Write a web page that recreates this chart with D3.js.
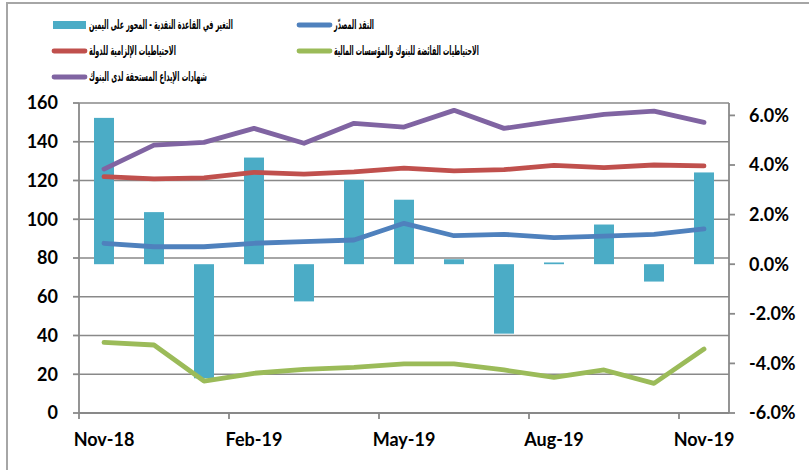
<!DOCTYPE html>
<html>
<head>
<meta charset="utf-8">
<script src="https://cdn.jsdelivr.net/npm/d3@7"></script>
<style>
  body { margin: 0; background: #fff; }
  svg { display: block; }
</style>
</head>
<body>
<div id="chart"></div>
<script>
// months on the category axis
let months = ["Nov-18", "Dec-18", "Jan-19", "Feb-19", "Mar-19", "Apr-19", "May-19",
              "Jun-19", "Jul-19", "Aug-19", "Sep-19", "Oct-19", "Nov-19"];

// change in monetary base, % (right axis)
let baseChange = [5.9, 2.1, -4.6, 4.3, -1.5, 3.4, 2.6, 0.2, -2.8, 0.07, 1.6, -0.7, 3.7];

// left axis series
let currency = [87.6, 85.8, 85.8, 87.6, 88.4, 89.3, 97.9, 91.5, 92.2, 90.5, 91.3, 92.2, 95.0];
let requiredReserves = [122.0, 120.8, 121.4, 124.2, 123.3, 124.5, 126.4, 125.0, 125.6, 127.8, 126.6, 128.0, 127.5];
let excessReserves = [36.5, 35.1, 16.5, 20.5, 22.5, 23.6, 25.4, 25.4, 22.2, 18.4, 22.2, 15.3, 33.0];
let depositCerts = [125.9, 138.3, 139.7, 146.9, 139.2, 149.5, 147.6, 156.2, 146.9, 150.6, 154.1, 155.8, 150.0];

let leftTicks = [0, 20, 40, 60, 80, 100, 120, 140, 160];
let rightTicks = [-6, -4, -2, 0, 2, 4, 6];
let xLabels = ["Nov-18", "Feb-19", "May-19", "Aug-19", "Nov-19"];

let series = [
    {name: "النقد المصدّر", values: currency, color: "#4F81BD"},
    {name: "الاحتياطيات الإلزامية للدولة", values: requiredReserves, color: "#C0504D"},
    {name: "الاحتياطيات الفائضة للبنوك والمؤسسات المالية", values: excessReserves, color: "#9BBB59"},
    {name: "شهادات الإيداع المستحقة لدى البنوك", values: depositCerts, color: "#8064A2"}
];
let barName = "التغير في القاعدة النقدية - المحور على اليمين";
let barColor = "#4BACC6";

const width = 809, height = 470;
const margin = {top: 103, right: 80, bottom: 57, left: 79};
const gridColor = "#898989";

const svg = d3.select("#chart").append("svg")
    .attr("width", width)
    .attr("height", height);

// outer chart frame (cut off on right and bottom)
svg.append("rect")
    .attr("x", 7).attr("y", 3)
    .attr("width", 900).attr("height", 600)
    .attr("fill", "none")
    .attr("stroke", "#a6a6a6")
    .attr("stroke-width", 2);

const x = d3.scaleBand()
    .domain(months)
    .range([margin.left, width - margin.right])
    .paddingInner(0.6)
    .paddingOuter(0.3);

const yL = d3.scaleLinear().domain([0, 160]).range([height - margin.bottom, margin.top]);
const yR = d3.scaleLinear().domain([-6, 6.5]).range([height - margin.bottom, margin.top]);

const cx = m => x(m) + x.bandwidth() / 2;
const x0 = x.range()[0], x1 = x.range()[1];

// gridlines
svg.append("g")
    .selectAll("line")
    .data(leftTicks.slice(1))
    .join("line")
    .attr("x1", x0).attr("x2", x1)
    .attr("y1", d => yL(d)).attr("y2", d => yL(d))
    .attr("stroke", gridColor)
    .attr("stroke-width", 1.4);

// bars
svg.append("g")
    .selectAll("rect")
    .data(baseChange)
    .join("rect")
    .attr("x", (d, i) => x(months[i]))
    .attr("width", x.bandwidth())
    .attr("y", d => yR(Math.max(0, d)))
    .attr("height", d => Math.abs(yR(d) - yR(0)))
    .attr("fill", barColor);

// lines
const line = d3.line()
    .x((d, i) => cx(months[i]))
    .y(d => yL(d));

svg.append("g")
    .selectAll("path")
    .data(series)
    .join("path")
    .attr("d", d => line(d.values))
    .attr("fill", "none")
    .attr("stroke", d => d.color)
    .attr("stroke-width", 4.8)
    .attr("stroke-linejoin", "round")
    .attr("stroke-linecap", "round");

// left axis
const leftAxis = svg.append("g");
leftAxis.append("line")
    .attr("x1", x0).attr("x2", x0)
    .attr("y1", yL(0)).attr("y2", yL(160))
    .attr("stroke", gridColor).attr("stroke-width", 1.8);
leftAxis.selectAll("line.tick")
    .data(leftTicks)
    .join("line")
    .attr("class", "tick")
    .attr("x1", x0 - 6).attr("x2", x0)
    .attr("y1", d => yL(d)).attr("y2", d => yL(d))
    .attr("stroke", gridColor).attr("stroke-width", 1.8);
leftAxis.selectAll("text")
    .data(leftTicks)
    .join("text")
    .attr("x", 58)
    .attr("y", d => yL(d))
    .attr("dy", "0.36em")
    .attr("text-anchor", "end")
    .attr("font-family", "Lato, 'Open Sans', sans-serif")
    .attr("font-weight", "bold")
    .attr("font-size", 18)
    .attr("fill", "#000")
    .text(d => d);

// right axis
const rightAxis = svg.append("g");
rightAxis.append("line")
    .attr("x1", x1).attr("x2", x1)
    .attr("y1", yR.range()[0]).attr("y2", yR.range()[1])
    .attr("stroke", gridColor).attr("stroke-width", 1.8);
rightAxis.selectAll("line.tick")
    .data(rightTicks)
    .join("line")
    .attr("class", "tick")
    .attr("x1", x1).attr("x2", x1 + 6)
    .attr("y1", d => yR(d)).attr("y2", d => yR(d))
    .attr("stroke", gridColor).attr("stroke-width", 1.8);
rightAxis.selectAll("text")
    .data(rightTicks)
    .join("text")
    .attr("x", 749)
    .attr("y", d => yR(d))
    .attr("dy", "0.36em")
    .attr("font-family", "Lato, 'Open Sans', sans-serif")
    .attr("font-weight", "bold")
    .attr("font-size", 18)
    .attr("fill", "#000")
    .text(d => d.toFixed(1) + "%");

// bottom axis
const bottomAxis = svg.append("g");
bottomAxis.append("line")
    .attr("x1", x0).attr("x2", x1)
    .attr("y1", yL(0)).attr("y2", yL(0))
    .attr("stroke", gridColor).attr("stroke-width", 1.8);
bottomAxis.selectAll("line.tick")
    .data(xLabels)
    .join("line")
    .attr("class", "tick")
    .attr("x1", d => x0 + months.indexOf(d) * x.step())
    .attr("x2", d => x0 + months.indexOf(d) * x.step())
    .attr("y1", yL(0)).attr("y2", yL(0) + 6)
    .attr("stroke", gridColor).attr("stroke-width", 1.8);
bottomAxis.selectAll("text")
    .data(xLabels)
    .join("text")
    .attr("x", d => cx(d))
    .attr("y", yL(0) + 33)
    .attr("text-anchor", "middle")
    .attr("font-family", "Lato, 'Open Sans', sans-serif")
    .attr("font-weight", "bold")
    .attr("font-size", 18)
    .attr("fill", "#000")
    .text(d => d);

// legend
let legendItems = [
    {name: barName, color: barColor, type: "bar"},
    {name: series[0].name, color: series[0].color, type: "line"},
    {name: series[1].name, color: series[1].color, type: "line"},
    {name: series[2].name, color: series[2].color, type: "line"},
    {name: series[3].name, color: series[3].color, type: "line"}
];
// legend layout: column x, row y, and text widths to fit
const legendCols = [52, 297];
const legendRows = [25, 51, 77];
const legendTextWidths = [144, 40, 87, 145, 118];

const legend = svg.append("g")
    .selectAll("g")
    .data(legendItems)
    .join("g")
    .attr("transform", (d, i) => `translate(${legendCols[i % 2]},${legendRows[Math.floor(i / 2)]})`);

legend.filter(d => d.type === "bar")
    .append("rect")
    .attr("x", 1).attr("y", -4)
    .attr("width", 33).attr("height", 8)
    .attr("fill", d => d.color);

legend.filter(d => d.type === "line")
    .append("line")
    .attr("x1", 2).attr("x2", 33)
    .attr("y1", 0).attr("y2", 0)
    .attr("stroke", d => d.color)
    .attr("stroke-width", 4.8)
    .attr("stroke-linecap", "round");

// squeeze each label horizontally so it takes the width seen in the chart
legend.append("text")
    .attr("y", 0)
    .attr("dy", "0.3em")
    .attr("font-family", "'DejaVu Sans', sans-serif")
    .attr("font-weight", "bold")
    .attr("font-size", 13)
    .attr("fill", "#000")
    .text(d => d.name)
    .attr("transform", function(d, i) {
        const len = this.getComputedTextLength();
        return `translate(37,0) scale(${legendTextWidths[i] / len},1)`;
    });
</script>
</body>
</html>
